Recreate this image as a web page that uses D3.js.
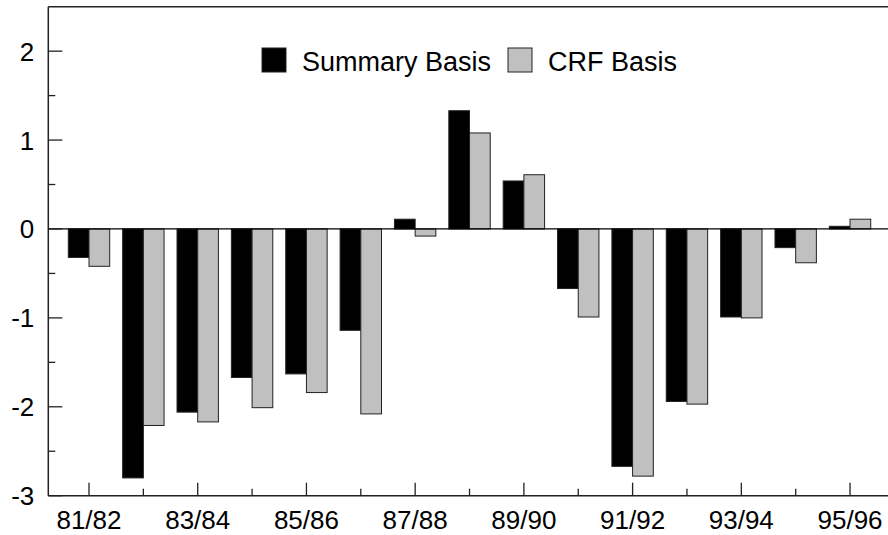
<!DOCTYPE html>
<html>
<head>
<meta charset="utf-8">
<script src="https://cdn.jsdelivr.net/npm/d3@7"></script>
<style>
  html, body { margin: 0; padding: 0; background: #fff; }
  svg { display: block; }
  text { font-family: "Liberation Sans", Arial, sans-serif; fill: #000; }
</style>
</head>
<body>
<svg id="chart" width="888" height="535"></svg>
<script>
const categories = ["81/82","82/83","83/84","84/85","85/86","86/87","87/88","88/89","89/90","90/91","91/92","92/93","93/94","94/95","95/96"];
const summaryBasis = [-0.32,-2.80,-2.06,-1.67,-1.63,-1.14,0.11,1.33,0.54,-0.67,-2.67,-1.94,-0.99,-0.21,0.03];
const crfBasis     = [-0.42,-2.21,-2.17,-2.01,-1.84,-2.08,-0.08,1.08,0.61,-0.99,-2.78,-1.97,-1.00,-0.38,0.11];
const seriesNames = ["Summary Basis","CRF Basis"];
const seriesColors = ["#000000","#c0c0c0"];
const yMajorTicks = [-3,-2,-1,0,1,2];
const yMinorTicks = [-2.5,-1.5,-0.5,0.5,1.5];

const svg = d3.select("#chart");
const axisLeftX = 48.3, plotRight = 890, plotTop = 6.7, plotBottom = 495.7;
const step = 54.36;
const firstCenter = 89;

const x = d3.scaleBand()
  .domain(categories)
  .range([firstCenter - step/2, firstCenter - step/2 + step*categories.length])
  .paddingInner(0).paddingOuter(0);
const y = d3.scaleLinear().domain([-3, 2.5]).range([plotBottom, plotTop]);

const barW = 20.7;
const series = [summaryBasis, crfBasis];

// bars
series.forEach((vals, si) => {
  svg.append("g").selectAll("rect")
    .data(vals.map((v, i) => ({v, c: categories[i]})))
    .join("rect")
    .attr("x", d => x(d.c) + x.bandwidth()/2 - barW + si*barW)
    .attr("width", barW)
    .attr("y", d => y(Math.max(0, d.v)))
    .attr("height", d => Math.abs(y(d.v) - y(0)))
    .attr("fill", seriesColors[si])
    .attr("stroke", "#222")
    .attr("stroke-width", 1);
});

// zero line
svg.append("line")
  .attr("x1", axisLeftX).attr("x2", plotRight)
  .attr("y1", y(0)).attr("y2", y(0))
  .attr("stroke", "#000").attr("stroke-width", 1.3);

// top border
svg.append("line")
  .attr("x1", axisLeftX).attr("x2", plotRight)
  .attr("y1", plotTop).attr("y2", plotTop)
  .attr("stroke", "#222").attr("stroke-width", 1.5);

// left axis
const gy = svg.append("g").attr("transform", `translate(${axisLeftX},0)`);
gy.append("line").attr("x1", 0).attr("x2", 0).attr("y1", plotTop).attr("y2", plotBottom)
  .attr("stroke", "#222").attr("stroke-width", 1.5);
gy.selectAll("line.maj").data(yMajorTicks).join("line").attr("class","maj")
  .attr("x1", 0).attr("x2", 14).attr("y1", d => y(d)).attr("y2", d => y(d))
  .attr("stroke", "#222").attr("stroke-width", 1.3);
gy.selectAll("line.min").data(yMinorTicks).join("line").attr("class","min")
  .attr("x1", 0).attr("x2", 7).attr("y1", d => y(d)).attr("y2", d => y(d))
  .attr("stroke", "#222").attr("stroke-width", 1.3);
gy.selectAll("text").data(yMajorTicks).join("text")
  .attr("x", -14).attr("y", d => y(d) + 9.5)
  .attr("text-anchor", "end")
  .attr("font-size", 26)
  .text(d => d);

// bottom axis
const gx = svg.append("g");
gx.append("line").attr("x1", axisLeftX).attr("x2", plotRight)
  .attr("y1", plotBottom).attr("y2", plotBottom)
  .attr("stroke", "#222").attr("stroke-width", 1.5);
gx.selectAll("line.t").data(categories).join("line").attr("class","t")
  .attr("x1", d => x(d) + x.bandwidth()/2).attr("x2", d => x(d) + x.bandwidth()/2)
  .attr("y1", plotBottom).attr("y2", (d, i) => plotBottom - (i % 2 === 0 ? 13 : 7))
  .attr("stroke", "#222").attr("stroke-width", 1.3);
gx.selectAll("text").data(categories.filter((d, i) => i % 2 === 0)).join("text")
  .attr("x", d => x(d) + x.bandwidth()/2)
  .attr("y", 529)
  .attr("text-anchor", "middle")
  .attr("font-size", 26)
  .text(d => d);

// legend
const legendItems = [
  {name: seriesNames[0], color: seriesColors[0], x: 262},
  {name: seriesNames[1], color: seriesColors[1], x: 508}
];
const lg = svg.append("g");
legendItems.forEach(it => {
  lg.append("rect").attr("x", it.x).attr("y", 48).attr("width", 24).attr("height", 24)
    .attr("fill", it.color).attr("stroke", "#222").attr("stroke-width", 1);
  lg.append("text").attr("x", it.x + 40).attr("y", 71)
    .attr("font-size", 27).text(it.name);
});
</script>
</body>
</html>
